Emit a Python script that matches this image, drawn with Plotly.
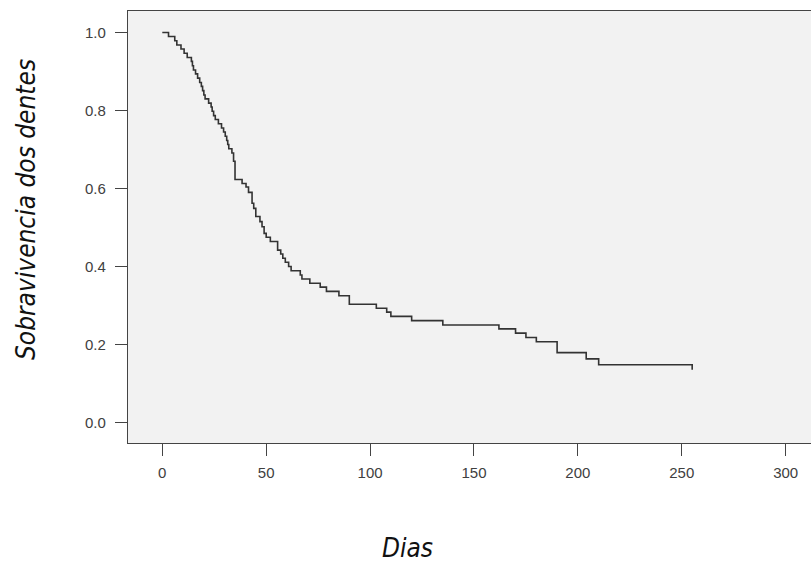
import plotly.graph_objects as go

# Kaplan-Meier style step curve
dias = [0, 3, 6, 7, 9, 10.5, 12, 14, 14.5, 15, 16, 17, 18, 18.8, 19.4, 20, 20.6,
        22.3, 23.5, 24, 24.7, 25.5, 27, 28.5, 29.5, 30.3, 31, 31.5, 32, 33.5,
        34.3, 35, 38.4, 40.3, 41.5, 43.2, 44, 45, 47, 48, 49, 50, 52, 55.5, 57,
        58, 59.2, 60.8, 62, 66.4, 67.2, 71, 76, 79, 85, 90, 103, 108, 110, 120,
        135, 162, 170, 175, 180, 190, 204, 210, 255]
sobrevivencia = [1.000, 0.990, 0.979, 0.968, 0.958, 0.947, 0.936, 0.926, 0.915,
                 0.904, 0.894, 0.883, 0.872, 0.862, 0.851, 0.840, 0.830, 0.819,
                 0.809, 0.798, 0.787, 0.777, 0.766, 0.755, 0.745, 0.734, 0.723,
                 0.713, 0.702, 0.691, 0.670, 0.623, 0.613, 0.604, 0.590, 0.562,
                 0.549, 0.528, 0.515, 0.502, 0.485, 0.475, 0.464, 0.442, 0.432,
                 0.421, 0.411, 0.400, 0.389, 0.378, 0.368, 0.357, 0.347, 0.336,
                 0.325, 0.303, 0.293, 0.283, 0.272, 0.261, 0.250, 0.240, 0.229,
                 0.218, 0.207, 0.179, 0.163, 0.148, 0.135]

x_ticks = [0, 50, 100, 150, 200, 250, 300]
y_ticks = [0.0, 0.2, 0.4, 0.6, 0.8, 1.0]
x_title = "Dias"
y_title = "Sobravivencia dos dentes"

W, H = 817, 579
ML, MT, MB, MR = 128, 11, 136, 0

fig = go.Figure()
fig.add_trace(go.Scatter(
    x=dias, y=sobrevivencia, mode="lines", line_shape="hv",
    line=dict(color="#333333", width=1.6), showlegend=False, hoverinfo="skip"))

tick_font = dict(family="Liberation Sans, Arial, sans-serif", size=15, color="#404040")
title_font = dict(family="Liberation Sans Narrow, DejaVu Sans Condensed, sans-serif",
                  size=26, color="#111111", style="italic")

fig.update_layout(
    width=W, height=H,
    margin=dict(l=ML, r=MR, t=MT, b=MB, pad=0),
    paper_bgcolor="white", plot_bgcolor="#f2f2f2",
    xaxis=dict(range=[-16.5, -16.5 + (W - ML - MR) / 2.078], tickvals=x_ticks,
               ticktext=[str(v) for v in x_ticks],
               showgrid=False, zeroline=False, showline=True, mirror=True,
               linecolor="#444444", linewidth=1.4, ticks="outside", ticklen=12,
               tickwidth=1.4, tickcolor="#444444", tickfont=tick_font,
               ticklabelstandoff=4),
    yaxis=dict(range=[-0.0528, 1.0553], tickvals=y_ticks,
               ticktext=[f"{v:.1f}" for v in y_ticks],
               showgrid=False, zeroline=False, showline=True, mirror=False,
               linecolor="#444444", linewidth=1.4, ticks="outside", ticklen=12,
               tickwidth=1.4, tickcolor="#444444", tickfont=tick_font,
               ticklabelstandoff=6),
    annotations=[
        dict(text=x_title, xref="paper", yref="paper",
             x=(407 - ML) / (W - ML - MR), y=-(548 - (H - MB)) / (H - MT - MB),
             showarrow=False, font=title_font, xanchor="center", yanchor="middle"),
        dict(text=y_title, xref="paper", yref="paper", textangle=-90,
             x=-(ML - 26) / (W - ML - MR), y=(H - MB - 210) / (H - MT - MB),
             showarrow=False, font=title_font, xanchor="center", yanchor="middle"),
    ],
)

fig.write_html("out.html", config={"displayModeBar": False},
               post_script="document.body.style.margin='0px';"
                           "document.body.style.padding='0px';"
                           "document.body.style.overflow='hidden';")
